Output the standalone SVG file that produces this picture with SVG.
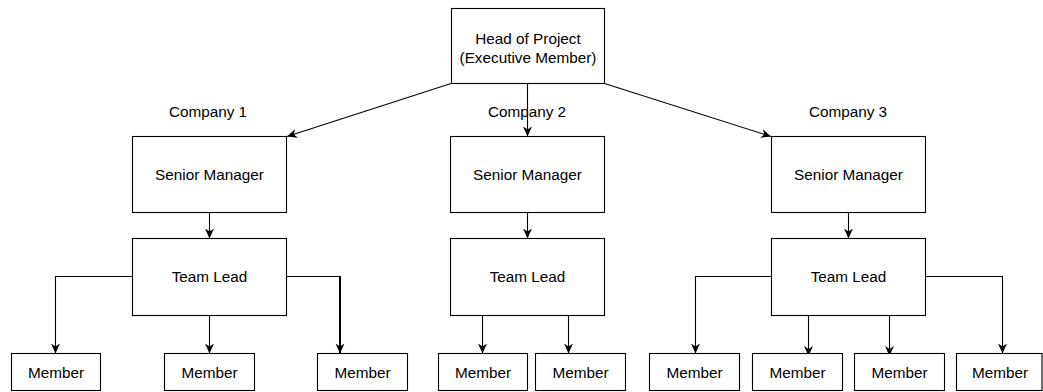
<svg xmlns="http://www.w3.org/2000/svg" width="1043" height="392" viewBox="0 0 1043 392">
  <style>
    .box { fill: #ffffff; stroke: #000000; stroke-width: 1.1; }
    .lbl { font-family: "Liberation Sans", Arial, Helvetica, sans-serif; font-size: 15.3px; fill: #000000; text-anchor: middle; }
    .edge { fill: none; stroke: #000000; stroke-width: 1.1; }
    .edge-bold { fill: none; stroke: #000000; stroke-width: 2; }
  </style>
  <defs>
    <marker id="arrow" markerUnits="userSpaceOnUse" markerWidth="10" markerHeight="10" viewBox="0 0 10 10" refX="10" refY="5" orient="auto">
      <path d="M0,0.5 L10,5 L0,9.5 L3,5 z" fill="#000000" stroke="none"/>
    </marker>
  </defs>

  <rect width="1043" height="392" fill="#ffffff"/>

  <!-- connectors -->
  <g id="connectors">
    <path class="edge" d="M451 83.5 L287 136.5" marker-end="url(#arrow)"/>
    <path class="edge" d="M527.5 83.5 V136.5" marker-end="url(#arrow)"/>
    <path class="edge" d="M604.5 83.5 L771 136.5" marker-end="url(#arrow)"/>

    <path class="edge" d="M209.5 212.5 V238.5" marker-end="url(#arrow)"/>
    <path class="edge" d="M527.5 212.5 V238.5" marker-end="url(#arrow)"/>
    <path class="edge" d="M848.5 212.5 V238.5" marker-end="url(#arrow)"/>

    <!-- company 1 team -->
    <path class="edge" d="M132.5 276.5 H55.5 V353.5" marker-end="url(#arrow)"/>
    <path class="edge" d="M209.5 315.5 V353.5" marker-end="url(#arrow)"/>
    <g id="tl1-m3">
      <path class="edge" d="M286.5 276.5 H340"/>
      <path class="edge-bold" d="M340 276 V353.5" marker-end="url(#arrow)"/>
    </g>

    <!-- company 2 team -->
    <path class="edge" d="M482.5 315.5 V353.5" marker-end="url(#arrow)"/>
    <path class="edge" d="M568.5 315.5 V353.5" marker-end="url(#arrow)"/>

    <!-- company 3 team -->
    <path class="edge" d="M771.5 276.5 H695.5 V353.5" marker-end="url(#arrow)"/>
    <path class="edge" d="M808.5 315.5 V356" marker-end="url(#arrow)"/>
    <path class="edge" d="M889.5 315.5 V356" marker-end="url(#arrow)"/>
    <path class="edge" d="M925.5 276.5 H1002.5 V353.5" marker-end="url(#arrow)"/>
  </g>

  <!-- company captions -->
  <g id="captions">
    <text class="lbl" x="208" y="117">Company 1</text>
    <text class="lbl" x="527" y="117">Company 2</text>
    <text class="lbl" x="848" y="117">Company 3</text>
  </g>

  <!-- top -->
  <g id="head">
    <rect class="box" x="451.5" y="8.5" width="153" height="75"/>
    <text class="lbl" x="528" y="44">Head of Project</text>
    <text class="lbl" x="528" y="63">(Executive Member)</text>
  </g>

  <!-- company 1 -->
  <g id="sm1">
    <rect class="box" x="132.5" y="136.5" width="154" height="76"/>
    <text class="lbl" x="209.5" y="180">Senior Manager</text>
  </g>
  <g id="tl1">
    <rect class="box" x="132.5" y="238.5" width="154" height="77"/>
    <text class="lbl" x="209.5" y="282">Team Lead</text>
  </g>
  <g id="m1-1">
    <rect class="box" x="11.5" y="353.5" width="89" height="37"/>
    <text class="lbl" x="56" y="377.5">Member</text>
  </g>
  <g id="m1-2">
    <rect class="box" x="164.5" y="353.5" width="90" height="37"/>
    <text class="lbl" x="209.5" y="377.5">Member</text>
  </g>
  <g id="m1-3">
    <rect class="box" x="317.5" y="353.5" width="90" height="37"/>
    <text class="lbl" x="362.5" y="377.5">Member</text>
  </g>

  <!-- company 2 -->
  <g id="sm2">
    <rect class="box" x="450.5" y="136.5" width="154" height="76"/>
    <text class="lbl" x="527.5" y="180">Senior Manager</text>
  </g>
  <g id="tl2">
    <rect class="box" x="450.5" y="238.5" width="154" height="77"/>
    <text class="lbl" x="527.5" y="282">Team Lead</text>
  </g>
  <g id="m2-1">
    <rect class="box" x="438.5" y="353.5" width="89" height="37"/>
    <text class="lbl" x="483" y="377.5">Member</text>
  </g>
  <g id="m2-2">
    <rect class="box" x="535.5" y="353.5" width="90" height="37"/>
    <text class="lbl" x="580.5" y="377.5">Member</text>
  </g>

  <!-- company 3 -->
  <g id="sm3">
    <rect class="box" x="771.5" y="136.5" width="154" height="76"/>
    <text class="lbl" x="848.5" y="180">Senior Manager</text>
  </g>
  <g id="tl3">
    <rect class="box" x="771.5" y="238.5" width="154" height="77"/>
    <text class="lbl" x="848.5" y="282">Team Lead</text>
  </g>
  <g id="m3-1">
    <rect class="box" x="649.5" y="353.5" width="90" height="37"/>
    <text class="lbl" x="694.5" y="377.5">Member</text>
  </g>
  <g id="m3-2">
    <rect class="box" x="752.5" y="353.5" width="90" height="37"/>
    <text class="lbl" x="797.5" y="377.5">Member</text>
  </g>
  <g id="m3-3">
    <rect class="box" x="854.5" y="353.5" width="90" height="37"/>
    <text class="lbl" x="899.5" y="377.5">Member</text>
  </g>
  <g id="m3-4">
    <rect class="box" x="956.5" y="353.5" width="85.5" height="37"/>
    <text class="lbl" x="1000" y="377.5">Member</text>
  </g>
</svg>
